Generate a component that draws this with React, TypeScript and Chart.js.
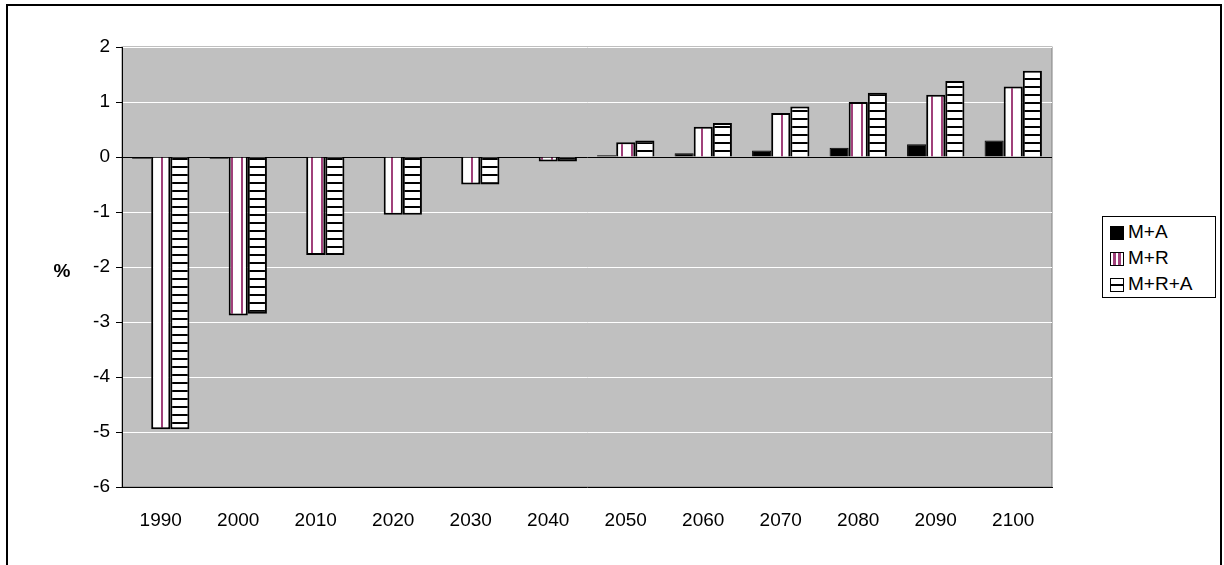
import { useRef, useEffect } from "react";
import { Chart, registerables } from "chart.js";

Chart.register(...registerables);

const years = ["1990", "2000", "2010", "2020", "2030", "2040", "2050", "2060", "2070", "2080", "2090", "2100"];
const seriesMA = [-0.03, -0.03, 0, 0, 0, 0, 0.03, 0.07, 0.12, 0.17, 0.23, 0.3];
const seriesMR = [-4.95, -2.88, -1.78, -1.05, -0.5, -0.08, 0.27, 0.55, 0.8, 1.0, 1.13, 1.28];
const seriesMRA = [-4.95, -2.85, -1.78, -1.05, -0.5, -0.08, 0.3, 0.62, 0.92, 1.17, 1.38, 1.57];

function vStripes(): CanvasPattern | string {
  const c = document.createElement("canvas");
  c.width = 10;
  c.height = 4;
  const g = c.getContext("2d");
  if (!g) return "#fff";
  g.fillStyle = "#fff";
  g.fillRect(0, 0, 10, 4);
  g.fillStyle = "#a0407a";
  g.fillRect(1, 0, 2, 4);
  return g.createPattern(c, "repeat") || "#fff";
}

function hStripes(): CanvasPattern | string {
  const c = document.createElement("canvas");
  c.width = 4;
  c.height = 8;
  const g = c.getContext("2d");
  if (!g) return "#fff";
  g.fillStyle = "#fff";
  g.fillRect(0, 0, 4, 8);
  g.fillStyle = "#000";
  g.fillRect(0, 6, 4, 2);
  return g.createPattern(c, "repeat") || "#fff";
}

const FONT = "Arial, Liberation Sans";

export default function App() {
  const canvasRef = useRef<HTMLCanvasElement | null>(null);
  const chartRef = useRef<Chart | null>(null);

  useEffect(() => {
    if (!canvasRef.current) return;
    if (chartRef.current) chartRef.current.destroy();
    const ctx = canvasRef.current.getContext("2d");
    if (!ctx) return;

    const plotBg = {
      id: "plotBg",
      beforeDraw(chart: Chart) {
        const { ctx: c, chartArea: a } = chart;
        c.save();
        c.fillStyle = "#c0c0c0";
        c.fillRect(a.left, a.top, a.right - a.left, a.bottom - a.top);
        c.strokeStyle = "#808080";
        c.lineWidth = 1;
        c.strokeRect(a.left, a.top, a.right - a.left, a.bottom - a.top);
        c.restore();
      },
    };

    chartRef.current = new Chart(ctx, {
      type: "bar",
      data: {
        labels: years,
        datasets: [
          { label: "M+A", data: seriesMA, backgroundColor: "#000", borderColor: "#000", borderWidth: 1 },
          { label: "M+R", data: seriesMR, backgroundColor: vStripes(), borderColor: "#000", borderWidth: 2 },
          { label: "M+R+A", data: seriesMRA, backgroundColor: hStripes(), borderColor: "#000", borderWidth: 2 },
        ],
      },
      options: {
        animation: false,
        responsive: false,
        layout: { padding: { top: 47, right: 172, left: 0, bottom: 0 } },
        datasets: { bar: { categoryPercentage: 0.74, barPercentage: 1 } },
        plugins: { legend: { display: false }, tooltip: { enabled: false } },
        scales: {
          x: {
            grid: { display: false, drawTicks: false },
            border: { color: "#000", width: 1 },
            ticks: { color: "#000", padding: 22, font: { family: FONT, size: 19 } },
            afterFit(s: any) { s.height = 78; },
          },
          y: {
            min: -6,
            max: 2,
            ticks: { stepSize: 1, color: "#000", padding: 6, font: { family: FONT, size: 19 } },
            grid: {
              color: (c: any) => (c.tick && c.tick.value === 0 ? "#000" : "#fff"),
              tickColor: "#000",
              tickLength: 6,
            },
            border: { color: "#000", width: 1 },
            afterFit(s: any) { s.width = 122; },
          },
        },
      },
      plugins: [plotBg],
    });

    return () => {
      if (chartRef.current) chartRef.current.destroy();
      chartRef.current = null;
    };
  }, []);

  const swatch = { display: "inline-block", width: 12, height: 12, border: "1px solid #000", marginRight: 4, verticalAlign: "middle" } as const;

  return (
    <div style={{ position: "fixed", left: 0, top: 0, width: 1224, height: 565, overflow: "hidden", background: "#fff" }}>
      <div style={{ position: "absolute", left: 6, top: 4, width: 1212, height: 620, border: "2px solid #000" }} />
      <canvas ref={canvasRef} width={1224} height={565} style={{ position: "absolute", left: 0, top: 0 }} />
      <div style={{ position: "absolute", left: 62, top: 271, transform: "translate(-50%,-50%)", fontFamily: FONT, fontWeight: "bold", fontSize: 19 }}>%</div>
      <div style={{ position: "absolute", left: 1102, top: 216, width: 114, height: 82, border: "1px solid #000", background: "#fff", fontFamily: FONT, fontSize: 19, lineHeight: "26px", padding: "2px 0 0 7px", boxSizing: "border-box", whiteSpace: "nowrap" }}>
        <div><span style={{ ...swatch, background: "#000" }} />M+A</div>
        <div><span style={{ ...swatch, background: "linear-gradient(90deg,#fff 0 20%,#a0407a 20% 40%,#fff 40% 60%,#a0407a 60% 80%,#fff 80%)" }} />M+R</div>
        <div><span style={{ ...swatch, background: "linear-gradient(180deg,#fff 0 45%,#000 45% 60%,#fff 60%)" }} />M+R+A</div>
      </div>
    </div>
  );
}
